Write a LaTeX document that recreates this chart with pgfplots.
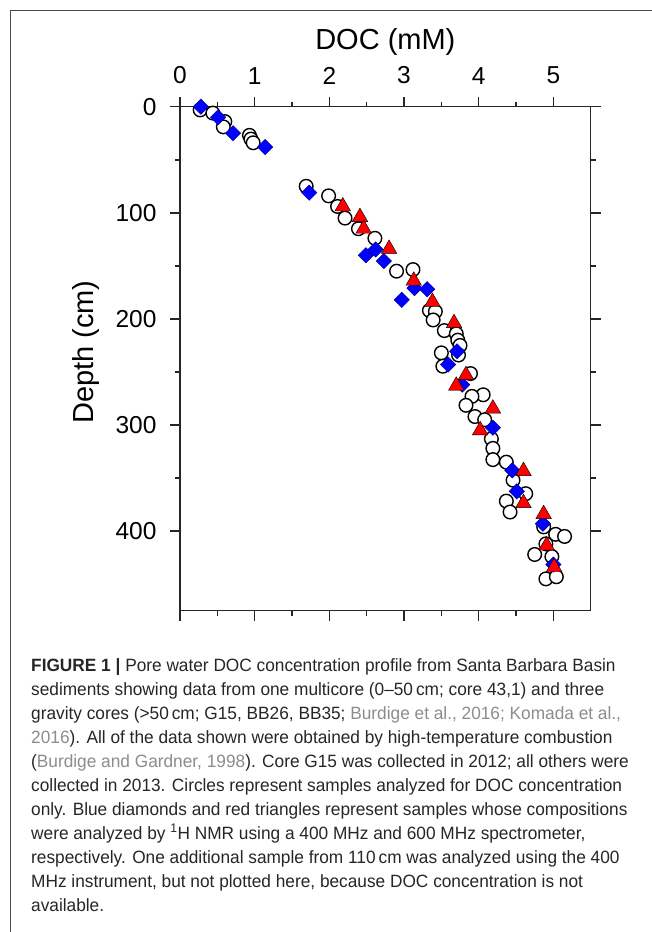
\documentclass[border=0pt]{standalone}
\usepackage{fontspec}
\setmainfont{Liberation Sans}
\newfontfamily\capfont[Ligatures=TeX, FakeStretch=0.97]{Liberation Sans}
\usepackage{pgfplots}
\pgfplotsset{compat=1.18}
\definecolor{framegray}{gray}{0.3}
\definecolor{citegray}{gray}{0.55}
\definecolor{mkblue}{RGB}{0,0,255}
\definecolor{mkred}{RGB}{255,0,0}

% DOC (mM) vs depth (cm)
\pgfplotstableread{
doc depth
0.27 3
0.44 6
0.60 14
0.58 19
0.93 27
0.95 30.5
0.98 34
1.69 75
1.99 84
2.11 94
2.21 105
2.39 115
2.61 124
2.90 155
3.12 153.5
3.34 192
3.42 193
3.39 201
3.54 211
3.70 214
3.72 220
3.75 225
3.50 232
3.73 234
3.52 244.6
3.89 251.5
4.06 271.5
3.91 273
3.83 281.4
3.95 292
4.08 295
4.17 313
4.19 322
4.19 332.6
4.37 335
4.46 352
4.63 364.7
4.37 371.7
4.42 382
4.87 396
5.03 403
5.15 405
4.90 412
4.75 422
4.98 424
4.90 445
5.04 443
}\circles
\pgfplotstableread{
doc depth
0.28 0
0.51 10
0.71 25
1.14 38
1.73 81
2.62 134.5
2.49 140
2.73 145.5
3.14 171
3.31 172
2.97 182
3.71 230.5
3.59 243
3.78 262
4.19 302.5
4.45 342.7
4.51 362.5
4.86 393
5.00 431.5
}\diamonds
\pgfplotstableread{
doc depth
2.18 94
2.41 104
2.46 115
2.80 134
3.13 164
3.38 184
3.67 204
3.83 253
3.70 263
4.19 284.5
4.02 305
4.60 343.4
4.60 373.6
4.87 384
4.91 413.5
5.01 434
}\triangles

\begin{document}
\begin{tikzpicture}
\path[use as bounding box] (0pt,0pt) rectangle (652pt,-932pt);
\draw[framegray, line width=1pt] (652pt,-10.7pt) -- (10.7pt,-10.7pt) -- (10.7pt,-932pt);
\begin{axis}[
    at={(180pt,-610.7pt)}, anchor=south west,
    scale only axis,
    width=410.7pt, height=504pt,
    xmin=0, xmax=5.5,
    ymin=0, ymax=475,
    y dir=reverse,
    xtick={0,1,2,3,4,5},
    ytick={0,100,200,300,400},
    minor x tick num=1,
    minor y tick num=1,
    tick align=outside,
    tick pos=both,
    xticklabel pos=right,
    yticklabel pos=left,
    major tick length=10pt,
    minor tick length=5pt,
    axis line style={line width=1.5pt, black!85},
    every tick/.style={line width=1.5pt, black!85},
    /pgf/number format/assume math mode=true,
    ticklabel style={font=\fontsize{24.5}{29}\selectfont},
    xticklabel style={yshift=9pt},
    yticklabel style={xshift=-10pt},
    xlabel={DOC (mM)},
    ylabel={Depth (cm)},
    label style={font=\fontsize{29}{34}\selectfont},
    xlabel style={at={(axis description cs:0.5,1)}, anchor=base, yshift=57pt},
    ylabel style={at={(axis description cs:-0.228,0.513)}, anchor=center},
    clip=false,
]
\addplot[only marks, mark=*, mark size=6.8pt,
    mark options={fill=white, draw=black, line width=1.4pt}] table[x=doc, y=depth] {\circles};
\addplot[only marks, mark=square*, mark size=5.4pt,
    mark options={rotate=45, fill=mkblue, draw=mkblue!60!black, line width=0.5pt}] table[x=doc, y=depth] {\diamonds};
\addplot[only marks, mark=triangle*, mark size=9pt,
    mark options={fill=mkred, draw=none}] table[x=doc, y=depth] {\triangles};
\end{axis}
\begin{scope}[every node/.style={anchor=base west, inner sep=0pt, text=black!85, font=\capfont\fontsize{17.8}{24}\selectfont}]
\node at (31pt,-671pt) {\textbf{FIGURE 1 |} Pore water DOC concentration profile from Santa Barbara Basin};
\node at (31pt,-695pt) {sediments showing data from one multicore (0–50\,cm; core 43,1) and three};
\node at (31pt,-719pt) {gravity cores (>50\,cm; G15, BB26, BB35; \textcolor{citegray}{Burdige et al., 2016; Komada et al.,}};
\node at (31pt,-743pt) {\textcolor{citegray}{2016}). All of the data shown were obtained by high-temperature combustion};
\node at (31pt,-767pt) {(\textcolor{citegray}{Burdige and Gardner, 1998}). Core G15 was collected in 2012; all others were};
\node at (31pt,-791pt) {collected in 2013. Circles represent samples analyzed for DOC concentration};
\node at (31pt,-815pt) {only. Blue diamonds and red triangles represent samples whose compositions};
\node at (31pt,-839pt) {were analyzed by \textsuperscript{1}H NMR using a 400 MHz and 600 MHz spectrometer,};
\node at (31pt,-863pt) {respectively. One additional sample from 110\,cm was analyzed using the 400};
\node at (31pt,-887pt) {MHz instrument, but not plotted here, because DOC concentration is not};
\node at (31pt,-911pt) {available.};
\end{scope}
\end{tikzpicture}
\end{document}
